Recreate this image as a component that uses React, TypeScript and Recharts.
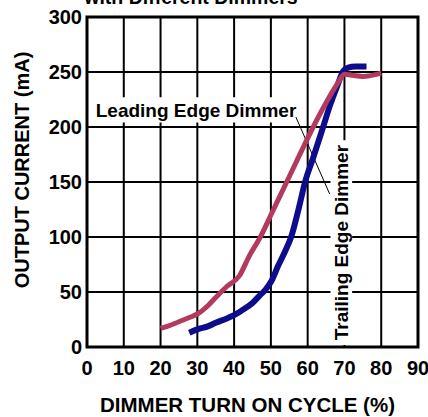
import { LineChart, Line, XAxis, YAxis, CartesianGrid, ReferenceArea, ReferenceLine } from "recharts"

const FONT = "'Liberation Sans', Arial, Helvetica, sans-serif"

const xTicks = [0, 10, 20, 30, 40, 50, 60, 70, 80, 90]
const yTicks = [0, 50, 100, 150, 200, 250, 300]

// leading edge dimmer (red)
const leadingCycle = [20, 22, 25, 28, 30, 33, 35, 38, 41.5, 44, 47.3, 50, 54.3, 58, 61.5, 65, 68, 70, 72, 75, 80]
const leadingCurrent = [17, 19, 23, 27, 30, 38, 45, 55, 65, 82, 101, 120, 150, 176, 200, 222, 239, 248, 247, 246, 249]

// trailing edge dimmer (blue)
const trailingCycle = [27.8, 30, 33, 35, 38, 40, 42, 45, 47, 48.5, 50, 52, 54, 55.5, 57.5, 59.3, 61.5, 64.2, 66, 68, 69.7, 71, 73, 76]
const trailingCurrent = [13, 16, 19, 22, 26, 29, 33, 40, 47, 52, 59, 74, 88, 100, 125, 150, 172, 200, 219, 237, 251, 254, 255, 255]

const leadingData = leadingCycle.map((c, i) => ({ cycle: c, current: leadingCurrent[i] }))
const trailingData = trailingCycle.map((c, i) => ({ cycle: c, current: trailingCurrent[i] }))

const tickStyle = { fill: "#000", fontSize: 20, fontWeight: 700, fontFamily: FONT }
const noteStyle = { fill: "#000", fontSize: 19, fontWeight: 700, fontFamily: FONT }

const App = () => {
  return (
    <div style={{ position: "absolute", left: 0, top: 0, width: 428, height: 417, background: "#fff" }}>
      <svg width={428} height={417} style={{ position: "absolute", left: 0, top: 0, pointerEvents: "none" }}>
        <text x={191} y={3.5} textAnchor="middle" fontSize={19.5} fontWeight={700} fontFamily={FONT} fill="#000">
          with Different Dimmers
        </text>
      </svg>
      <LineChart width={428} height={417} margin={{ top: 17, right: 10, bottom: 0, left: 0 }}>
        <CartesianGrid stroke="#000" strokeWidth={2} />
        <XAxis
          dataKey="cycle"
          type="number"
          domain={[0, 90]}
          ticks={xTicks}
          allowDataOverflow
          tickLine={false}
          axisLine={false}
          tickSize={0}
          tickMargin={14}
          height={70}
          tick={tickStyle}
          label={{
            content: ({ viewBox }: any) => (
              <text
                x={viewBox.x + viewBox.width / 2 - 5}
                y={viewBox.y + 65}
                textAnchor="middle"
                fontSize={20.5}
                fontWeight={700}
                fontFamily={FONT}
                fill="#000"
              >
                DIMMER TURN ON CYCLE (%)
              </text>
            ),
          }}
        />
        <YAxis
          type="number"
          domain={[0, 300]}
          ticks={yTicks}
          allowDataOverflow
          tickLine={false}
          axisLine={false}
          tickSize={0}
          tickMargin={5}
          width={87}
          tick={tickStyle}
          label={{
            content: () => (
              <text
                x={22}
                y={170}
                transform="rotate(-90 22 170)"
                textAnchor="middle"
                dominantBaseline="central"
                fontSize={20}
                fontWeight={700}
                fontFamily={FONT}
                fill="#000"
              >
                OUTPUT CURRENT (mA)
              </text>
            ),
          }}
        />
        <ReferenceArea x1={0} x2={90} y1={0} y2={300} fill="none" stroke="#000" strokeWidth={3} />
        <ReferenceArea
          x1={1.4}
          x2={57.9}
          y1={204}
          y2={227}
          fill="#fff"
          fillOpacity={1}
          stroke="none"
          label={{ value: "Leading Edge Dimmer", position: "center", style: noteStyle }}
        />
        <ReferenceArea
          x1={66.2}
          x2={72.1}
          y1={1.8}
          y2={188}
          fill="#fff"
          fillOpacity={1}
          stroke="none"
          label={{ value: "Trailing Edge Dimmer", position: "center", angle: -90, style: noteStyle }}
        />
        <ReferenceLine
          segment={[
            { x: 56.8, y: 209 },
            { x: 66, y: 139 },
          ]}
          stroke="#000"
          strokeWidth={1}
        />
        <Line
          data={trailingData}
          dataKey="current"
          type="monotone"
          stroke="#0c0c8c"
          strokeWidth={6}
          dot={false}
          isAnimationActive={false}
        />
        <Line
          data={leadingData}
          dataKey="current"
          type="monotone"
          stroke="#b23a5c"
          strokeWidth={5}
          dot={false}
          isAnimationActive={false}
        />
      </LineChart>
    </div>
  )
}

export default App
